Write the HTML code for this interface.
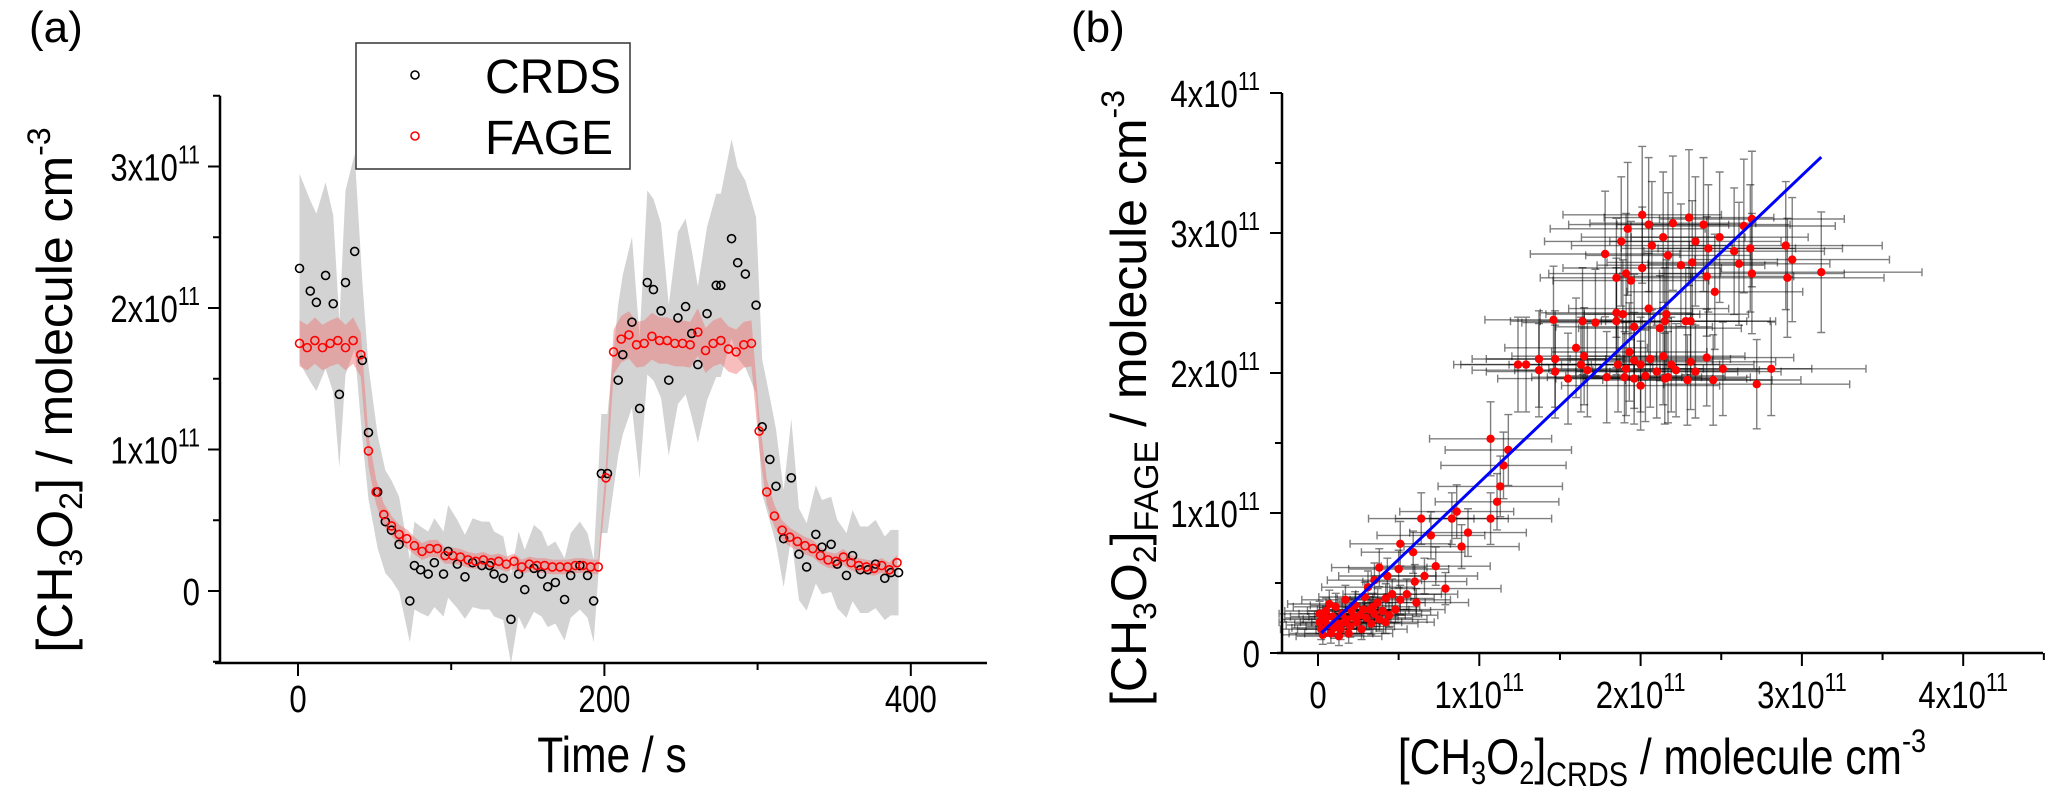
<!DOCTYPE html>
<html><head><meta charset="utf-8"><style>
html,body{margin:0;padding:0;background:#fff;}
svg{display:block;font-family:"Liberation Sans",sans-serif;}
.tick{font-family:"Liberation Sans",sans-serif;font-size:38px;}
.ttl{font-size:50px;}
</style></head><body>
<svg id="chart" width="2068" height="809" viewBox="0 0 2068 809" xmlns="http://www.w3.org/2000/svg">
<g id="pa"></g>
<g id="pb"></g>
<text x="29" y="42" font-size="44">(a)</text>
<text x="1071" y="42" font-size="44">(b)</text>
<text class="ttl" transform="translate(612,772) scale(0.85,1)" text-anchor="middle">Time / s</text>
<text class="ttl" transform="translate(72,390) rotate(-90)" text-anchor="middle">[CH<tspan font-size="32" dy="10">3</tspan><tspan dy="-10">O</tspan><tspan font-size="32" dy="10">2</tspan><tspan dy="-10">] / molecule cm</tspan><tspan font-size="32" dy="-22">-3</tspan></text>
<text class="ttl" transform="translate(1146,398) rotate(-90)" text-anchor="middle">[CH<tspan font-size="32" dy="10">3</tspan><tspan dy="-10">O</tspan><tspan font-size="32" dy="10">2</tspan><tspan dy="-10">]</tspan><tspan font-size="34" dy="12">FAGE</tspan><tspan dy="-12"> / molecule cm</tspan><tspan font-size="32" dy="-22">-3</tspan></text>
<text class="ttl" transform="translate(1662,774) scale(0.85,1)" text-anchor="middle">[CH<tspan font-size="32" dy="10">3</tspan><tspan dy="-10">O</tspan><tspan font-size="32" dy="10">2</tspan><tspan dy="-10">]</tspan><tspan font-size="34" dy="12">CRDS</tspan><tspan dy="-12"> / molecule cm</tspan><tspan font-size="32" dy="-22">-3</tspan></text>
<g>
<rect x="356" y="43" width="274" height="126" fill="#fff" stroke="#333" stroke-width="1.5"/>
<circle cx="415" cy="75" r="4" fill="none" stroke="#000" stroke-width="1.6"/>
<text x="485" y="93" font-size="48">CRDS</text>
<circle cx="415" cy="136" r="4" fill="none" stroke="#f00" stroke-width="1.6"/>
<text x="485" y="154" font-size="48">FAGE</text>
</g>
</svg>
<script>
// Panel (a) data (units 1e11 molecule cm^-3)
const crdsT = [1,8,12,18,23,27,31,37,42,46,52,57,61,66,73,76,80,85,89,95,98,104,109,114,120,125,128,134,139,144,148,154,159,163,168,174,178,184,189,193,198,202,209,212,218,223,228,232,237,242,248,253,257,261,267,273,276,283,287,292,299,303,308,312,317,322,327,332,338,342,348,352,358,362,367,372,377,383,387,392];
const crdsV = [2.28,2.12,2.04,2.23,2.03,1.39,2.18,2.40,1.63,1.12,0.70,0.49,0.43,0.33,-0.07,0.18,0.15,0.12,0.20,0.12,0.28,0.19,0.10,0.20,0.18,0.18,0.12,0.09,-0.20,0.12,0.01,0.16,0.12,0.03,0.06,-0.06,0.11,0.18,0.11,-0.07,0.83,0.83,1.49,1.67,1.90,1.29,2.18,2.13,1.98,1.49,1.93,2.01,1.82,1.60,1.96,2.16,2.16,2.49,2.32,2.24,2.02,1.16,0.93,0.74,0.37,0.80,0.26,0.17,0.40,0.31,0.33,0.19,0.11,0.25,0.15,0.15,0.19,0.09,0.13,0.13];
const fageT0 = 1, fageStep = 5;
const fageV = [1.75,1.72,1.77,1.72,1.75,1.77,1.72,1.77,1.67,0.99,0.70,0.54,0.46,0.40,0.37,0.32,0.28,0.30,0.30,0.25,0.25,0.24,0.22,0.21,0.22,0.20,0.21,0.19,0.21,0.17,0.19,0.18,0.18,0.17,0.17,0.17,0.18,0.18,0.17,0.17,0.80,1.69,1.78,1.81,1.74,1.75,1.80,1.77,1.77,1.75,1.75,1.74,1.83,1.70,1.75,1.77,1.71,1.69,1.74,1.75,1.13,0.70,0.53,0.43,0.38,0.35,0.32,0.30,0.25,0.22,0.21,0.24,0.20,0.18,0.17,0.16,0.18,0.15,0.20];
const aXTicks = [0,200,400];
const aXTickLabels = ["0","200","400"];
const aXMinor = [100,300];
const aYTicks = [0,1,2,3];
const aYTickLabels = ["0","1x10","2x10","3x10"];
const aYMinor = [-0.5,0.5,1.5,2.5,3.5];

// Panel (b) data (units 1e11)
const bX = [0.01,0.01,0.02,0.03,0.05,0.06,0.08,0.09,0.11,0.12,0.14,0.15,0.17,0.18,0.20,0.21,0.23,0.24,0.26,0.27,0.29,0.30,0.32,0.33,0.35,0.37,0.38,0.40,0.42,0.44,0.03,0.07,0.13,0.19,0.16,0.10,0.22,0.28,0.34,0.05,
 0.35,0.31,0.42,0.46,0.55,0.48,0.51,0.61,0.60,0.79,0.66,0.43,0.38,0.50,0.73,0.59,0.51,0.89,0.93,0.70,0.64,0.83,0.86,1.07,1.11,1.13,1.15,1.18,1.07,
 1.24,1.29,1.37,1.47,1.37,1.47,1.55,1.60,1.65,1.63,1.67,1.79,1.86,1.91,1.93,1.96,2.00,2.00,2.03,2.06,2.10,2.14,2.17,2.19,2.22,2.31,2.34,2.29,2.41,2.45,2.51,2.72,2.81,1.90,1.96,2.15,
 1.46,1.64,1.72,1.85,1.89,2.05,1.96,2.12,2.15,2.16,2.28,2.31,1.85,
 2.01,2.30,1.78,3.12,2.90,2.69,2.64,1.92,2.05,2.20,1.88,2.07,2.14,2.34,2.42,2.58,2.68,2.61,2.69,2.91,2.94,2.46,1.94,1.85,1.91,2.25,2.32,2.41,2.17,2.01,2.49,2.39];
const bY = [0.28,0.22,0.17,0.24,0.30,0.20,0.14,0.26,0.33,0.21,0.17,0.28,0.38,0.24,0.19,0.30,0.34,0.22,0.27,0.17,0.40,0.25,0.31,0.21,0.28,0.36,0.24,0.30,0.22,0.27,0.13,0.35,0.12,0.14,0.22,0.18,0.26,0.31,0.33,0.25,
 0.52,0.47,0.39,0.42,0.42,0.31,0.38,0.36,0.51,0.46,0.55,0.55,0.61,0.60,0.62,0.72,0.78,0.76,0.86,0.84,0.96,0.96,1.01,0.96,1.08,1.19,1.34,1.45,1.53,
 2.06,2.06,2.10,2.10,2.02,2.01,1.96,2.18,2.12,2.06,2.02,1.97,2.06,2.03,2.15,2.09,2.06,1.91,1.98,2.10,2.01,2.12,1.97,2.06,2.02,2.08,2.01,1.95,2.11,1.95,2.03,1.92,2.03,1.97,1.96,1.96,
 2.38,2.37,2.36,2.43,2.42,2.46,2.33,2.32,2.37,2.42,2.37,2.37,2.37,
 3.13,3.11,2.85,2.72,2.91,3.10,3.05,3.03,3.06,3.07,2.94,2.91,2.97,2.94,2.89,2.87,2.89,2.78,2.71,2.68,2.81,2.58,2.66,2.68,2.71,2.77,2.79,2.69,2.84,2.75,2.97,3.06];
const fitStart = 0.02, fitEnd = 3.12, fitIntercept = 0.12, fitSlope = 1.097;
const bXTicks = [0,1,2,3,4];
const bXTickLabels = ["0","1x10","2x10","3x10","4x10"];
const bXMinor = [0.5,1.5,2.5,3.5,4.5];
const bYTicks = [0,1,2,3,4];
const bYTickLabels = ["0","1x10","2x10","3x10","4x10"];
const bYMinor = [0.5,1.5,2.5,3.5];

const NS = "http://www.w3.org/2000/svg";
function mk(parent, tag, attrs){const e=document.createElementNS(NS,tag);for(const k in attrs)e.setAttribute(k,attrs[k]);parent.appendChild(e);return e;}

const xA = t => 298 + t*1.532;
const yA = v => 591 - v*141.5;
const xB = v => 1318 + v*161.3;
const yB = v => 653 - v*140;

const crdsErr = v => 0.28 + 0.17*Math.abs(v);
const fageErr = v => 0.04 + 0.07*Math.abs(v);
const bXErr = v => 0.25 + 0.12*v;
const bYErr = v => 0.05 + 0.14*v;

function tickLabel(g, x, y, label, anchor, name, exp){
  const t = mk(g,'text',{x:0,y:0,'text-anchor':anchor,class:'tick',transform:`translate(${x},${y}) scale(0.82,1)`});
  
  
  t.appendChild(document.createTextNode(label));
  if(exp && label!=="0"){const s=mk(t,'tspan',{'font-size':'26',dy:'-17'});s.textContent='11';}
  return t;
}

// ---------- Panel A ----------
const pa = document.getElementById('pa');
const fageT = fageV.map((v,i)=>fageT0+i*fageStep);
let up = crdsT.map((t,i)=>xA(t)+','+yA(crdsV[i]+crdsErr(crdsV[i])));
let lo = crdsT.map((t,i)=>xA(t)+','+yA(crdsV[i]-crdsErr(crdsV[i]))).reverse();
const gb = mk(pa,'polygon',{points:up.concat(lo).join(' '),fill:'#d3d3d3',stroke:'none'});


up = fageT.map((t,i)=>xA(t)+','+yA(fageV[i]+fageErr(fageV[i])));
lo = fageT.map((t,i)=>xA(t)+','+yA(fageV[i]-fageErr(fageV[i]))).reverse();
const rb = mk(pa,'polygon',{points:up.concat(lo).join(' '),fill:'rgba(240,110,110,0.45)',stroke:'none'});


crdsT.forEach((t,i)=>{
  const c = mk(pa,'circle',{cx:xA(t),cy:yA(crdsV[i]),r:4,fill:'none',stroke:'#000','stroke-width':1.6});
  
  
});
fageT.forEach((t,i)=>{
  const c = mk(pa,'circle',{cx:xA(t),cy:yA(fageV[i]),r:4,fill:'none',stroke:'#f00','stroke-width':1.6});
  
  
});
const ax1 = mk(pa,'line',{x1:220,y1:yA(3.5),x2:220,y2:663,stroke:'#000','stroke-width':2.5});


const ax2 = mk(pa,'line',{x1:215,y1:663,x2:987,y2:663,stroke:'#000','stroke-width':2.5});


aXTicks.forEach((t,i)=>{
  const l = mk(pa,'line',{x1:xA(t),y1:663,x2:xA(t),y2:676,stroke:'#000','stroke-width':2});
  
  
  tickLabel(pa, xA(t), 712, aXTickLabels[i], 'middle', 'x-tick-label-a', false);
});
aXMinor.forEach(t=>{
  const l = mk(pa,'line',{x1:xA(t),y1:663,x2:xA(t),y2:670,stroke:'#000','stroke-width':2});
  
  
});
aYTicks.forEach((v,i)=>{
  const l = mk(pa,'line',{x1:208,y1:yA(v),x2:220,y2:yA(v),stroke:'#000','stroke-width':2});
  
  
  tickLabel(pa, 200, yA(v)+14, aYTickLabels[i], 'end', 'y-tick-label-a', true);
});
aYMinor.forEach(v=>{
  const l = mk(pa,'line',{x1:213,y1:yA(v),x2:220,y2:yA(v),stroke:'#000','stroke-width':2});
  
  
});

// ---------- Panel B ----------
const pb = document.getElementById('pb');
bX.forEach((x,i)=>{
  const y = bY[i], ex = bXErr(x), ey = bYErr(y);
  const g = mk(pb,'g',{stroke:'rgba(0,0,0,0.5)','stroke-width':1.4,fill:'none'});
  
  
  const x0=xB(x-ex), x1=xB(x+ex), y0=yB(y-ey), y1=yB(y+ey), cx=xB(x), cy=yB(y);
  mk(g,'path',{d:`M${x0},${cy}H${x1}M${x0},${cy-4}V${cy+4}M${x1},${cy-4}V${cy+4}M${cx},${y0}V${y1}M${cx-4},${y0}H${cx+4}M${cx-4},${y1}H${cx+4}`});
});
bX.forEach((x,i)=>{
  const c = mk(pb,'circle',{cx:xB(x),cy:yB(bY[i]),r:4.2,fill:'#f00'});
  
  
});
const fit = mk(pb,'line',{x1:xB(fitStart),y1:yB(fitIntercept+fitSlope*fitStart),x2:xB(fitEnd),y2:yB(fitIntercept+fitSlope*fitEnd),stroke:'#0000ff','stroke-width':3});


const bx1 = mk(pb,'line',{x1:1282,y1:yB(4),x2:1282,y2:653,stroke:'#000','stroke-width':2.5});


const bx2 = mk(pb,'line',{x1:1277,y1:653,x2:2043,y2:653,stroke:'#000','stroke-width':2.5});


bXTicks.forEach((v,i)=>{
  const l = mk(pb,'line',{x1:xB(v),y1:653,x2:xB(v),y2:666,stroke:'#000','stroke-width':2});
  
  
  tickLabel(pb, xB(v), 708, bXTickLabels[i], 'middle', 'x-tick-label-b', true);
});
bXMinor.forEach(v=>{
  const l = mk(pb,'line',{x1:xB(v),y1:653,x2:xB(v),y2:660,stroke:'#000','stroke-width':2});
  
  
});
bYTicks.forEach((v,i)=>{
  const l = mk(pb,'line',{x1:1270,y1:yB(v),x2:1282,y2:yB(v),stroke:'#000','stroke-width':2});
  
  
  tickLabel(pb, 1260, yB(v)+14, bYTickLabels[i], 'end', 'y-tick-label-b', true);
});
bYMinor.forEach(v=>{
  const l = mk(pb,'line',{x1:1275,y1:yB(v),x2:1282,y2:yB(v),stroke:'#000','stroke-width':2});
  
  
});
</script>
</body></html>
